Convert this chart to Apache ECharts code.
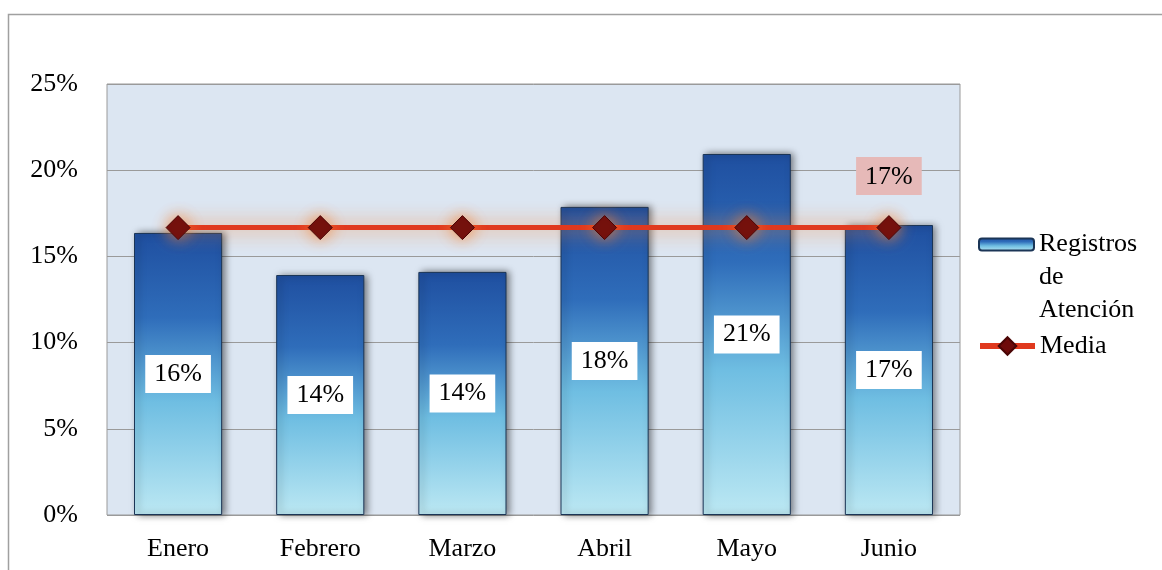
<!DOCTYPE html>
<html>
<head>
<meta charset="utf-8">
<script src="https://cdn.jsdelivr.net/npm/echarts@6/dist/echarts.min.js"></script>
<style>
html,body{margin:0;padding:0;background:#fff;}
#chart{width:1162px;height:570px;}
</style>
</head>
<body>
<div id="chart"></div>
<script>
const categories = ['Enero', 'Febrero', 'Marzo', 'Abril', 'Mayo', 'Junio'];
const registros = [16.36, 13.92, 14.10, 17.87, 20.94, 16.82];
const media = [16.67, 16.67, 16.67, 16.67, 16.67, 16.67];
const yTicks = { min: 0, max: 25, interval: 5 };
const seriesNames = ['Registros de Atención', 'Media'];

const FONT = 'Liberation Serif';
const FS = 26;
const chart = echarts.init(document.getElementById('chart'));

const mediaData = media.map((v, i) => i === media.length - 1 ? {
  value: v,
  label: {
    show: true, position: 'top', distance: 20,
    formatter: p => Math.round(p.value) + '%',
    backgroundColor: '#E6B9B8', padding: [7, 9, 5, 9],
    fontFamily: FONT, fontSize: FS, color: '#000'
  }
} : v);

chart.setOption({
  animation: false,
  graphic: [{
    type: 'rect', silent: true,
    shape: { x: 8.5, y: 14.5, width: 1200, height: 600 },
    style: { fill: 'none', stroke: '#A0A0A0', lineWidth: 1.5 }
  }],
  grid: {
    left: 107, right: 202, top: 84, bottom: 55,
    show: true, backgroundColor: '#DCE6F2', borderColor: '#9A9A9A', borderWidth: 1
  },
  legend: [{
    data: [seriesNames[0]],
    orient: 'vertical', left: 973, top: 157,
    itemWidth: 55, itemHeight: 12, itemGap: 0,
    formatter: () => '\n\nRegistros\nde\nAtención',
    textStyle: { fontFamily: FONT, fontSize: FS, color: '#000', lineHeight: 33 }
  }, {
    data: [seriesNames[1]],
    orient: 'vertical', left: 972, top: 328,
    itemWidth: 55, itemHeight: 22, itemGap: 0,
    lineStyle: { width: 6, color: '#E0391E' },
    textStyle: { fontFamily: FONT, fontSize: FS, color: '#000' }
  }],
  xAxis: {
    type: 'category', data: categories,
    axisLine: { show: false }, axisTick: { show: false },
    axisLabel: { fontFamily: FONT, fontSize: FS, color: '#000', margin: 21 }
  },
  yAxis: {
    type: 'value', min: yTicks.min, max: yTicks.max, interval: yTicks.interval,
    axisLine: { show: false }, axisTick: { show: false },
    splitLine: { lineStyle: { color: '#9A9A9A', width: 1 } },
    axisLabel: { formatter: '{value}%', fontFamily: FONT, fontSize: FS, color: '#000', margin: 29 }
  },
  series: [{
    name: seriesNames[0], type: 'bar', barWidth: '62%',
    itemStyle: {
      color: new echarts.graphic.LinearGradient(0, 0, 0, 1, [
        { offset: 0, color: '#1F4FA0' },
        { offset: 0.3, color: '#2F6DBA' },
        { offset: 0.6, color: '#6FBEE2' },
        { offset: 1, color: '#BCE8F3' }
      ]),
      borderColor: '#1B3556', borderWidth: 1,
      shadowColor: 'rgba(0,0,0,0.5)', shadowBlur: 7, shadowOffsetX: 3
    },
    label: {
      show: true, position: 'inside',
      formatter: p => Math.round(p.value) + '%',
      backgroundColor: '#fff', padding: [7, 9, 5, 9],
      fontFamily: FONT, fontSize: FS, color: '#000'
    },
    data: registros, z: 2
  }, {
    name: seriesNames[1], type: 'line',
    data: mediaData,
    symbol: 'diamond', symbolSize: 24,
    lineStyle: { color: '#E0391E', width: 5, shadowColor: 'rgba(245,130,50,0.95)', shadowBlur: 20 },
    itemStyle: {
      color: '#6E0B0B', borderColor: '#4A0505', borderWidth: 1,
      shadowColor: 'rgba(245,130,50,0.95)', shadowBlur: 16
    },
    z: 3
  }]
});
</script>
</body>
</html>
